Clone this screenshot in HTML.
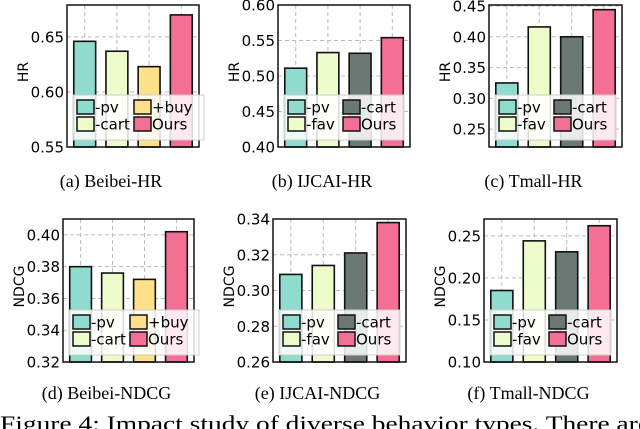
<!DOCTYPE html>
<html><head><meta charset="utf-8">
<style>
html,body{margin:0;padding:0;background:#fff;}
body{width:640px;height:429px;overflow:hidden;position:relative;}
svg{position:absolute;left:0;top:0;}
text{font-family:"DejaVu Sans","Liberation Sans",sans-serif;}
.cap{font-family:"Liberation Serif",serif;font-size:18px;}
</style></head>
<body>
<svg id="fig" width="640" height="429"></svg>
<script>
// Chart data
const panelIds = ['beibei-hr','ijcai-hr','tmall-hr','beibei-ndcg','ijcai-ndcg','tmall-ndcg'];
const captions = ['(a)  Beibei-HR','(b)  IJCAI-HR','(c)  Tmall-HR','(d)  Beibei-NDCG','(e)  IJCAI-NDCG','(f)  Tmall-NDCG'];
const yTitles = ['HR','HR','HR','NDCG','NDCG','NDCG'];
const seriesA = ['-pv','-cart','+buy','Ours'];
const seriesB = ['-pv','-fav','-cart','Ours'];
const valuesBeibeiHR = [0.646,0.637,0.623,0.670];
const valuesIjcaiHR = [0.511,0.533,0.532,0.554];
const valuesTmallHR = [0.325,0.416,0.400,0.444];
const valuesBeibeiNDCG = [0.380,0.376,0.372,0.402];
const valuesIjcaiNDCG = [0.309,0.314,0.321,0.338];
const valuesTmallNDCG = [0.185,0.244,0.231,0.262];
const ticksBeibeiHR = ['0.55','0.60','0.65'];
const ticksIjcaiHR = ['0.40','0.45','0.50','0.55','0.60'];
const ticksTmallHR = ['0.25','0.30','0.35','0.40','0.45'];
const ticksBeibeiNDCG = ['0.32','0.34','0.36','0.38','0.40'];
const ticksIjcaiNDCG = ['0.26','0.28','0.30','0.32','0.34'];
const ticksTmallNDCG = ['0.10','0.15','0.20','0.25'];
const yMin = [0.55,0.40,0.221,0.32,0.26,0.10];
const yMax = [0.679,0.60,0.4516,0.410,0.34,0.270];

const values = [valuesBeibeiHR,valuesIjcaiHR,valuesTmallHR,valuesBeibeiNDCG,valuesIjcaiNDCG,valuesTmallNDCG];
const ticks = [ticksBeibeiHR,ticksIjcaiHR,ticksTmallHR,ticksBeibeiNDCG,ticksIjcaiNDCG,ticksTmallNDCG];
const seriesSets = [seriesA,seriesB,seriesB,seriesA,seriesB,seriesB];
const colorMap = {'-pv':'#8fdccf','-cart':'#eefccc','+buy':'#fde08a','Ours':'#f46f94','-fav':'#eefccc'};
const colorMapB = {'-pv':'#8fdccf','-fav':'#eefccc','-cart':'#6c7873','Ours':'#f46f94'};
const boxes = [[67,5,199,147],[278,5,410,147],[489,5,622,147],[63,219,194,362],[273,219,406,362],[484,219,617,362]];

const NS='http://www.w3.org/2000/svg';
const svg=document.getElementById('fig');
function mk(tag,attrs,parent){const e=document.createElementNS(NS,tag);for(const k in attrs)e.setAttribute(k,attrs[k]);(parent||svg).appendChild(e);return e;}

for(let p=0;p<6;p++){
  const [x0,y0,x1,y1]=boxes[p];
  const g=mk('g',{});
  
  
  const ys=v=>y1-(v-yMin[p])/(yMax[p]-yMin[p])*(y1-y0);
  const step=(x1-x0)/4.1;
  const xs=i=>x0+step*(0.55+i);
  const bw=step*0.68;
  const cmap = seriesSets[p]===seriesA?colorMap:colorMapB;
  ticks[p].forEach(t=>{const y=ys(parseFloat(t));
    const l=mk('line',{x1:x0,x2:x1,y1:y,y2:y,stroke:'#bbb','stroke-dasharray':'4,3','stroke-width':1},g);
    
    
    const tl=mk('text',{x:x0-3,y:y+5.5,'text-anchor':'end','font-size':15,fill:'#000'},g);
    tl.textContent=t;
    
    
  });
  for(let i=0;i<4;i++){const l=mk('line',{x1:xs(i),x2:xs(i),y1:y0,y2:y1,stroke:'#bbb','stroke-dasharray':'4,3','stroke-width':1},g);
    
    }
  values[p].forEach((v,i)=>{const top=ys(v);
    const r=mk('rect',{x:xs(i)-bw/2,y:top,width:bw,height:y1-top,fill:cmap[seriesSets[p][i]],stroke:'#111','stroke-width':1.6},g);
    
    
  });
  const fr=mk('rect',{x:x0,y:y0,width:x1-x0,height:y1-y0,fill:'none',stroke:'#111','stroke-width':1.5},g);
  
  
  const lg=mk('g',{},g);
  
  
  const lx=x0+6, ly=y1-52, lw=(p===0||p===3)?(x1-x0-1):(x1-x0-12);
  mk('rect',{x:lx,y:ly,width:lw,height:45,fill:'rgba(255,255,255,0.85)',stroke:'#ccc','stroke-width':1},lg);
  seriesSets[p].forEach((s,i)=>{
    const col=Math.floor(i/2), row=i%2;
    const sx=lx+4+col*(seriesSets[p]===seriesA?57:55), sy=ly+5+row*17;
    const sw=mk('rect',{x:sx,y:sy,width:17,height:14,fill:cmap[s],stroke:'#111','stroke-width':1.5},lg);
    
    
    const t=mk('text',{x:sx+18,y:sy+12.5,'font-size':15,fill:'#000'},lg);
    t.textContent=s;
    
    
  });
  const yt=mk('text',{x:0,y:0,'font-size':14,'text-anchor':'middle',transform:`translate(${x0-39},${(y0+y1)/2-4}) rotate(-90)`},g);
  yt.textContent=yTitles[p];
  
  
  const c=mk('text',{x:(x0+x1)/2-22,y:p<3?187:399,'text-anchor':'middle',class:'cap'},g);
  c.textContent=captions[p];
  
  
}
const fc=mk('text',{x:0,y:431,class:'cap',textLength:650,lengthAdjust:'spacingAndGlyphs'});
fc.setAttribute('style','font-size:22px');
fc.textContent='Figure 4: Impact study of diverse behavior types. There are';


</script>
</body></html>
